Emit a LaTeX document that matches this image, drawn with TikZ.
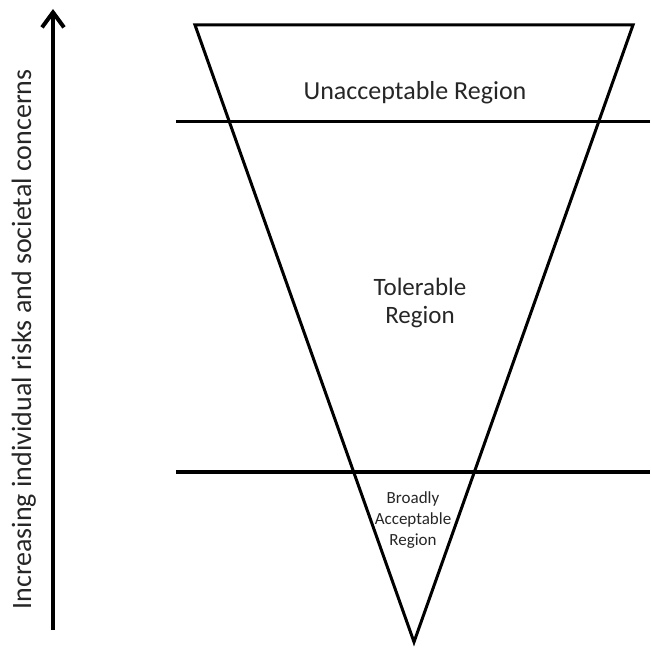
\documentclass[tikz,border=0pt]{standalone}
\usepackage{fontspec}
\setmainfont{Carlito}
\usetikzlibrary{arrows.meta}
\begin{document}
\begin{tikzpicture}[x=1pt,y=-1pt,
  frame/.style={line width=3pt, line join=miter},
  band/.style={line width=3.5pt},
  axisline/.style={line width=4pt, -{Straight Barb[length=15pt,width=22pt]}},
  label/.style={inner sep=0pt, anchor=base, text=black!85},
  biglabel/.style={label, font=\fontsize{25}{30}\selectfont},
  midlabel/.style={label, font=\fontsize{26}{30}\selectfont},
  axislabel/.style={label, font=\fontsize{28}{32}\selectfont},
  smalllabel/.style={label, font=\fontsize{17}{20}\selectfont}]
\useasboundingbox (0,0) rectangle (650,652);

% inverted triangle of risk
\coordinate (tl) at (195,25);
\coordinate (tr) at (633,25);
\coordinate (apex) at (414,642);
\draw[frame] (tl) -- (tr) -- (apex) -- cycle;

% region boundaries
\coordinate (u1) at (176,121.5);
\coordinate (u2) at (650,121.5);
\coordinate (b1) at (176,472);
\coordinate (b2) at (650,472);
\draw[band] (u1) -- (u2);
\draw[band] (b1) -- (b2);

% increasing-risk axis
\coordinate (ab) at (53,630);
\coordinate (at) at (53,9);
\draw[axisline] (ab) -- (at);
\node[axislabel, rotate=90] (axis) at (31,339.5) {Increasing individual risks and societal concerns};

% region labels
\node[midlabel] (unacc) at (415,99.5) {Unacceptable Region};
\node[biglabel] (tol1) at (420,295) {Tolerable};
\node[biglabel] (tol2) at (420,323) {Region};
\node[smalllabel] (acc1) at (413,503) {Broadly};
\node[smalllabel] (acc2) at (413,524) {Acceptable};
\node[smalllabel] (acc3) at (413,545) {Region};
\end{tikzpicture}
\end{document}
